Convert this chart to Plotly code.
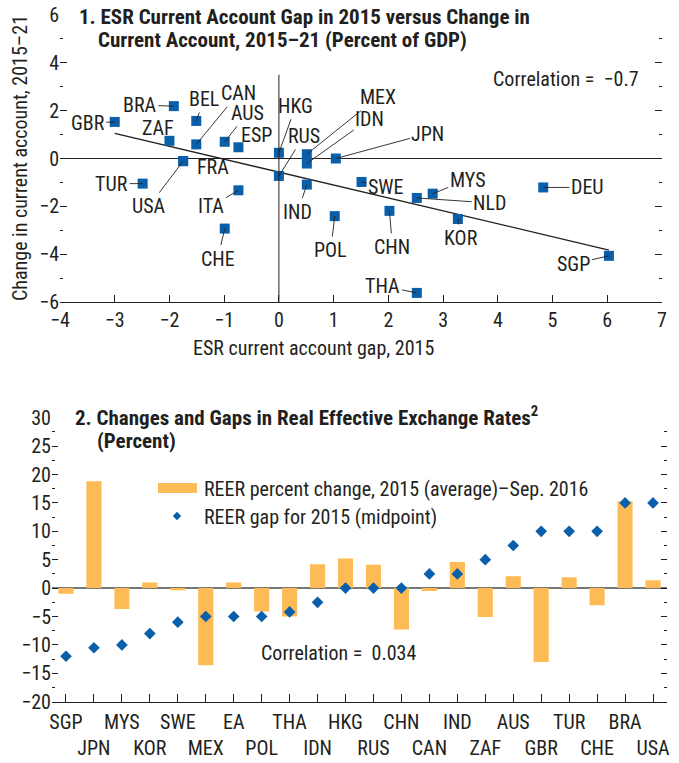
import plotly.graph_objects as go

# ---------------- data: panel 1 ----------------
countries1 = ["GBR", "BRA", "BEL", "CAN", "ZAF", "AUS", "ESP", "USA", "FRA", "TUR", "ITA", "CHE",
              "HKG", "RUS", "MEX", "IDN", "IND", "POL", "JPN", "SWE", "MYS", "NLD", "CHN", "KOR",
              "DEU", "SGP", "THA"]
ca_gap_2015 = [-3.0, -1.92, -1.51, -1.51, -2.0, -0.99, -0.74, -1.75, -1.75, -2.49, -0.74, -0.99,
               0.0, 0.0, 0.51, 0.51, 0.51, 1.02, 1.04, 1.51, 2.81, 2.52, 2.02, 3.27,
               4.83, 6.03, 2.52]
ca_change = [1.53, 2.19, 1.57, 0.59, 0.74, 0.70, 0.47, -0.11, -0.11, -1.05, -1.33, -2.93,
             0.24, -0.73, 0.18, -0.21, -1.09, -2.41, 0.0, -0.98, -1.47, -1.65, -2.19, -2.53,
             -1.21, -4.07, -5.62]
trend_slope = -0.54
trend_intercept = -0.57
correlation1 = "−0.7"

# ---------------- data: panel 2 ----------------
countries2 = ["SGP", "JPN", "MYS", "KOR", "SWE", "MEX", "EA", "POL", "THA", "IDN", "HKG",
              "RUS", "CHN", "CAN", "IND", "ZAF", "AUS", "GBR", "TUR", "CHE", "BRA", "USA"]
reer_change = [-1.0, 18.8, -3.7, 1.0, -0.4, -13.6, 1.0, -4.1, -5.0, 4.2, 5.2,
               4.1, -7.3, -0.5, 4.6, -5.1, 2.1, -13.0, 1.9, -3.0, 15.3, 1.4]
reer_gap = [-12.0, -10.5, -10.0, -8.0, -6.0, -5.0, -5.0, -5.0, -4.2, -2.5, 0.0,
            0.0, 0.0, 2.5, 2.5, 5.0, 7.5, 10.0, 10.0, 10.0, 15.0, 15.0]
correlation2 = "0.034"

# ---------------- styles / layout helpers ----------------
W, H = 679, 763
FONT = "Liberation Sans Narrow, Arial Narrow, Roboto Condensed, Liberation Sans, sans-serif"
TXT = "#231f20"
BLUE = "#0a5fab"
ORANGE = "#fdbb55"


def px(x):
    return x / W


def py(y):
    return 1 - y / H


# label offsets (pixels, label centre relative to point)
label_offsets = {
    "GBR": (-27, 1), "BRA": (-34, -1), "BEL": (8, -22), "CAN": (42, -51), "ZAF": (-11, -13),
    "AUS": (23, -29), "ESP": (18, -12), "USA": (-34, 45), "FRA": (30, 6), "TUR": (-31, 0),
    "ITA": (-27, 16), "CHE": (-7, 30), "HKG": (17, -47), "RUS": (25, -40), "MEX": (71, -57),
    "IDN": (63, -45), "IND": (-9, 27), "POL": (-4, 34), "JPN": (92, -25), "SWE": (24, 5),
    "MYS": (35, -14), "NLD": (73, 5), "CHN": (3, 36), "KOR": (3, 19), "DEU": (44, 0),
    "SGP": (-35, 8), "THA": (-34, -7),
}

fig = go.Figure()

# panel 1 trend line
xmin, xmax = min(ca_gap_2015), max(ca_gap_2015)
fig.add_trace(go.Scatter(x=[xmin, xmax],
                         y=[trend_intercept + trend_slope * xmin, trend_intercept + trend_slope * xmax],
                         mode="lines", line=dict(color=TXT, width=1.3),
                         xaxis="x", yaxis="y", showlegend=False, hoverinfo="skip"))
# panel 1 points
fig.add_trace(go.Scatter(x=ca_gap_2015, y=ca_change, mode="markers", text=countries1,
                         marker=dict(symbol="square", size=10, color=BLUE),
                         xaxis="x", yaxis="y", showlegend=False))

# panel 2 bars and diamonds
fig.add_trace(go.Bar(x=countries2, y=reer_change, marker=dict(color=ORANGE, line=dict(width=0)),
                     width=0.54, xaxis="x2", yaxis="y2", showlegend=False))
fig.add_trace(go.Scatter(x=countries2, y=reer_gap, mode="markers",
                         marker=dict(symbol="diamond", size=9, color=BLUE),
                         xaxis="x2", yaxis="y2", showlegend=False))

LBL = dict(family=FONT, size=20, color=TXT)
TTL = dict(family=FONT, size=21, color=TXT)

annotations = []
for c, xv, yv in zip(countries1, ca_gap_2015, ca_change):
    ax, ay = label_offsets[c]
    annotations.append(dict(x=xv, y=yv, xref="x", yref="y", text=c, showarrow=True,
                            ax=ax, ay=ay, axref="pixel", ayref="pixel",
                            arrowhead=0, arrowwidth=0.9,
                            arrowcolor="rgba(0,0,0,0)" if c in ("FRA",) else TXT,
                            font=LBL))

# titles
annotations += [
    dict(x=px(77), y=py(17), xref="paper", yref="paper", xanchor="left", yanchor="middle",
         text="<b>1. ESR Current Account Gap in 2015 versus Change in</b>", showarrow=False, font=TTL),
    dict(x=px(96), y=py(40), xref="paper", yref="paper", xanchor="left", yanchor="middle",
         text="<b>Current Account, 2015–21 (Percent of GDP)</b>", showarrow=False, font=TTL),
    dict(x=px(566), y=py(79), xref="paper", yref="paper", xanchor="center", yanchor="middle",
         text="Correlation =  " + correlation1, showarrow=False, font=LBL),
    dict(x=px(20), y=py(158), xref="paper", yref="paper", xanchor="center", yanchor="middle",
         text="Change in current account, 2015–21", textangle=-90, showarrow=False, font=LBL),
    dict(x=px(313), y=py(348), xref="paper", yref="paper", xanchor="center", yanchor="middle",
         text="ESR current account gap, 2015", showarrow=False, font=LBL),
    dict(x=px(73), y=py(416), xref="paper", yref="paper", xanchor="left", yanchor="middle",
         text="<b>2. Changes and Gaps in Real Effective Exchange Rates<sup>2</sup></b>", showarrow=False,
         font=TTL),
    dict(x=px(95), y=py(441), xref="paper", yref="paper", xanchor="left", yanchor="middle",
         text="<b>(Percent)</b>", showarrow=False, font=TTL),
    dict(x=px(338), y=py(653), xref="paper", yref="paper", xanchor="center", yanchor="middle",
         text="Correlation =  " + correlation2, showarrow=False, font=LBL),
    dict(x=px(202), y=py(489), xref="paper", yref="paper", xanchor="left", yanchor="middle",
         text="REER percent change, 2015 (average)–Sep. 2016", showarrow=False, font=LBL),
    dict(x=px(202), y=py(517), xref="paper", yref="paper", xanchor="left", yanchor="middle",
         text="REER gap for 2015 (midpoint)", showarrow=False, font=LBL),
]

# legend swatches
dx, dy, cx, cy = 4.2 / W, 4.2 / H, px(177), py(516)
shapes = [
    dict(type="rect", xref="paper", yref="paper", x0=px(158), x1=px(197), y0=py(483), y1=py(493),
         fillcolor=ORANGE, line=dict(width=0)),
    dict(type="path", xref="paper", yref="paper",
         path=f"M {cx},{cy+dy} L {cx+dx},{cy} L {cx},{cy-dy} L {cx-dx},{cy} Z",
         fillcolor=BLUE, line=dict(width=0)),
    dict(type="line", xref="x", yref="y", x0=0, x1=0, y0=-6, y1=3.5,
         line=dict(color=TXT, width=1)),
]

# alternating tick labels
ticktext2 = [c if i % 2 == 0 else "<br>" + c for i, c in enumerate(countries2)]

tickfont = dict(family=FONT, size=20, color=TXT)
fig.update_layout(
    width=W, height=H, margin=dict(l=0, r=0, t=0, b=0),
    paper_bgcolor="white", plot_bgcolor="white",
    font=dict(family=FONT, color=TXT),
    annotations=annotations, shapes=shapes,
    xaxis=dict(domain=[px(60), px(662)], range=[-4, 7], dtick=1, tick0=-4,
               showgrid=False, zeroline=False, showline=True, linecolor=TXT, linewidth=1.2,
               ticks="inside", ticklen=7, tickcolor=TXT, tickwidth=1, tickfont=tickfont,
               tickformat="d", ticklabeloverflow="allow", automargin=False, anchor="y"),
    yaxis=dict(domain=[py(302), py(15)], range=[-6, 6], dtick=2, tick0=0,
               showgrid=False, zeroline=True, zerolinecolor=TXT, zerolinewidth=1,
               showline=False, ticks="inside", ticklen=7, tickcolor=TXT, tickwidth=1, mirror="ticks",
               minor=dict(ticks="inside", ticklen=3, dtick=1, tickcolor=TXT, showgrid=False),
               tickfont=tickfont, ticklabeloverflow="allow", automargin=False, anchor="x"),
    xaxis2=dict(domain=[px(52), px(667)], range=[-0.5, 21.5], type="category",
                tickmode="array", tickvals=countries2, ticktext=ticktext2, tickangle=0,
                showgrid=False, zeroline=False, showline=True, linecolor=TXT, linewidth=1.2,
                ticks="inside", ticklen=8, tickcolor=TXT, tickwidth=1, tickfont=tickfont,
                ticklabelstandoff=2, ticklabeloverflow="allow", automargin=False, anchor="y2"),
    yaxis2=dict(domain=[py(701.7), py(417.7)], range=[-20, 30], dtick=5, tick0=0,
                showgrid=False, zeroline=True, zerolinecolor="#777777", zerolinewidth=1.5,
                showline=False, ticks="inside", ticklen=6, tickcolor=TXT, tickwidth=1, mirror="ticks",
                minor=dict(ticks="inside", ticklen=3, dtick=2.5, tickcolor=TXT, showgrid=False),
                tickfont=tickfont, ticklabelstandoff=0, ticklabeloverflow="allow",
                automargin=False, anchor="x2"),
)

# remove the default page margin so the figure fills the 679x763 window exactly
fig.write_html("out.html", config={"displayModeBar": False},
               post_script="document.body.style.margin='0px';")
